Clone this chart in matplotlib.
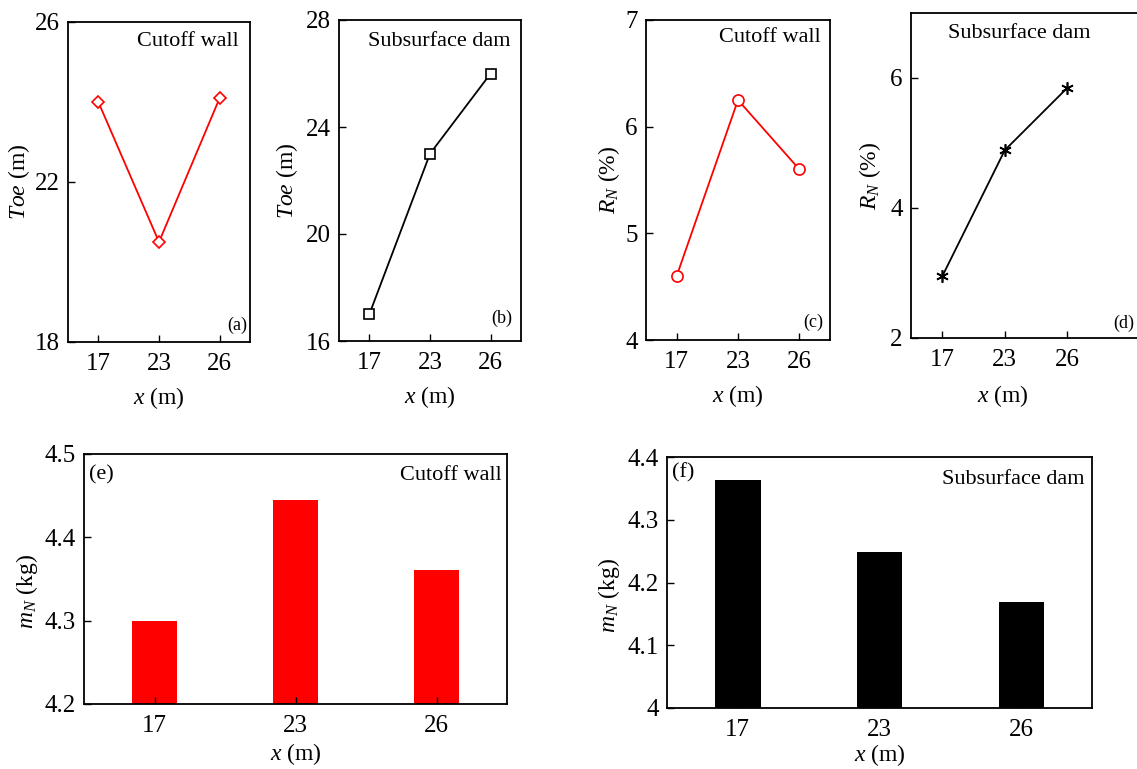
import matplotlib
matplotlib.use('Agg')
import matplotlib.pyplot as plt
import numpy as np

plt.rcParams['font.family'] = ['Liberation Serif', 'DejaVu Serif']
plt.rcParams['mathtext.fontset'] = 'custom'
plt.rcParams['mathtext.rm'] = 'Liberation Serif'
plt.rcParams['mathtext.it'] = 'Liberation Serif:italic'

# data
x_labels = ['17', '23', '26']
toe_cutoff = [24.0, 20.5, 24.1]
toe_dam = [17.0, 23.0, 26.0]
rn_cutoff = [4.6, 6.25, 5.6]
rn_dam = [2.95, 4.89, 5.85]
mn_cutoff = [4.299, 4.445, 4.361]
mn_dam = [4.364, 4.248, 4.169]

xpos = np.arange(len(x_labels))

fig = plt.figure(figsize=(11.37, 7.69), dpi=100)
W, H = 1137.0, 769.0
LAB = 17


def make_ax(l, t, r, b):
    return fig.add_axes([l / W, 1 - b / H, (r - l) / W, (b - t) / H])


def style(ax, yticks, ylabels, ylim, xlim=(-0.5, 2.5)):
    ax.set_xlim(*xlim)
    ax.set_ylim(*ylim)
    ax.set_xticks(xpos)
    ax.set_xticklabels(x_labels)
    ax.set_yticks(yticks)
    ax.set_yticklabels(ylabels)
    ax.tick_params(direction='in', length=5, width=1.0, labelsize=18)
    ax.tick_params(axis='x', pad=8)
    ax.tick_params(axis='y', pad=6)
    for s in ax.spines.values():
        s.set_linewidth(1.3)


def corner_text(ax, s, xy, dx, dy, ha, size=16):
    ax.annotate(s, xy=xy, xycoords='axes fraction', xytext=(dx, dy),
                textcoords='offset pixels', ha=ha, va='center', fontsize=size)


# (a)
ax = make_ax(68, 22, 250, 342)
ax.plot(xpos, toe_cutoff, color='red', lw=1.3, marker='D', ms=6,
        mfc='white', mec='red', mew=1.2)
style(ax, [18, 22, 26], ['18', '22', '26'], (18, 26))
ax.set_ylabel(r'$\mathit{Toe}$ (m)', fontsize=LAB)
ax.set_xlabel(r'$x$ (m)', fontsize=LAB)
ax.yaxis.set_label_coords(-0.20, 0.5)
ax.xaxis.set_label_coords(0.5, -0.135)
corner_text(ax, 'Cutoff wall', (1, 1), -11, -20, 'right')
corner_text(ax, '(a)', (1, 0), -3, 17, 'right', 13)

# (b)
ax = make_ax(339, 20, 521, 341)
ax.plot(xpos, toe_dam, color='black', lw=1.3, marker='s', ms=7,
        mfc='white', mec='black', mew=1.2)
style(ax, [16, 20, 24, 28], ['16', '20', '24', '28'], (16, 28))
ax.set_ylabel(r'$\mathit{Toe}$ (m)', fontsize=LAB)
ax.set_xlabel(r'$x$ (m)', fontsize=LAB)
ax.yaxis.set_label_coords(-0.215, 0.5)
ax.xaxis.set_label_coords(0.5, -0.135)
corner_text(ax, 'Subsurface dam', (1, 1), -11, -22, 'right')
corner_text(ax, '(b)', (1, 0), -9, 23, 'right', 13)

# (c)
ax = make_ax(646, 20, 830, 340)
ax.plot(xpos, rn_cutoff, color='red', lw=1.3, marker='o', ms=8,
        mfc='white', mec='red', mew=1.2)
style(ax, [4, 5, 6, 7], ['4', '5', '6', '7'], (4, 7))
ax.set_ylabel(r'$R_N$ (%)', fontsize=LAB)
ax.set_xlabel(r'$x$ (m)', fontsize=LAB)
ax.yaxis.set_label_coords(-0.13, 0.5)
ax.xaxis.set_label_coords(0.5, -0.135)
corner_text(ax, 'Cutoff wall', (1, 1), -9, -18, 'right')
corner_text(ax, '(c)', (1, 0), -7, 18, 'right', 13)

# (d) - runs off the right edge of the figure
ax = make_ax(911, 13, 1165, 338)
ax.plot(xpos, rn_dam, color='black', lw=1.3, marker=(6, 2, 0), ms=9,
        mec='black', mew=1.2)
style(ax, [2, 4, 6], ['2', '4', '6'], (2, 7), xlim=(-0.5, 3.56))
ax.set_ylabel(r'$R_N$ (%)', fontsize=LAB)
ax.set_xlabel(r'$x$ (m)', fontsize=LAB)
ax.yaxis.set_label_coords(-0.11, 0.5)
ax.xaxis.set_label_coords(0.362, -0.14)
corner_text(ax, 'Subsurface dam', (0, 1), 37, -20, 'left')
corner_text(ax, '(d)', (0, 0), 202, 15, 'left', 13)

# (e)
ax = make_ax(84, 454, 507, 704)
ax.bar(xpos, np.array(mn_cutoff) - 4.2, bottom=4.2, width=0.32, color='#ff0000')
style(ax, [4.2, 4.3, 4.4, 4.5], ['4.2', '4.3', '4.4', '4.5'], (4.2, 4.5))
ax.set_ylabel(r'$m_N$ (kg)', fontsize=LAB)
ax.set_xlabel(r'$x$ (m)', fontsize=LAB)
ax.yaxis.set_label_coords(-0.104, 0.45)
ax.xaxis.set_label_coords(0.5, -0.15)
corner_text(ax, '(e)', (0, 1), 5, -21, 'left', 16)
corner_text(ax, 'Cutoff wall', (1, 1), -5, -22, 'right')

# (f)
ax = make_ax(667, 457, 1092, 708)
ax.bar(xpos, np.array(mn_dam) - 4.0, bottom=4.0, width=0.32, color='black')
style(ax, [4.0, 4.1, 4.2, 4.3, 4.4], ['4', '4.1', '4.2', '4.3', '4.4'], (4.0, 4.4))
ax.set_ylabel(r'$m_N$ (kg)', fontsize=LAB)
ax.set_xlabel(r'$x$ (m)', fontsize=LAB)
ax.yaxis.set_label_coords(-0.106, 0.45)
ax.xaxis.set_label_coords(0.5, -0.135)
corner_text(ax, '(f)', (0, 1), 5, -16, 'left', 16)
corner_text(ax, 'Subsurface dam', (1, 1), -7, -23, 'right')

fig.savefig('out.png', dpi=100)
